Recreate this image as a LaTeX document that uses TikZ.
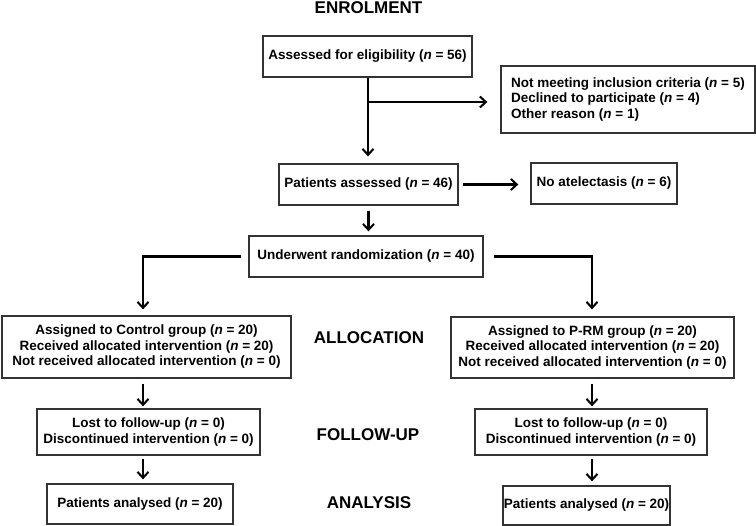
\documentclass[tikz,border=0pt]{standalone}
\usepackage{fontspec}
\setmainfont{Liberation Sans}
\usetikzlibrary{arrows.meta}
\newcommand\myn{\textit{n}}
\begin{document}
\begin{tikzpicture}[x=1pt,y=-1pt,
  box/.style={draw=black!80, line width=1.3pt, fill=white, align=center, inner sep=0pt,
    font=\fontsize{13.5}{15.5}\selectfont\bfseries},
  ttl/.style={font=\fontsize{17}{20}\selectfont\bfseries},
  arr/.style={line width=2.3pt, -{Straight Barb[length=6pt,width=11pt,line width=2pt]}},
  ln/.style={line width=2.3pt}]
\useasboundingbox (0,0) rectangle (756,526);
% titles
\node[ttl] (enr) at (368.5,8) {ENROLMENT};
\node[ttl] (alloc) at (369,338) {ALLOCATION};
\node[ttl] (fu) at (368,435) {FOLLOW-UP};
\node[ttl] (ana) at (369,503) {ANALYSIS};
% boxes
\node[box, minimum width=209pt, minimum height=41pt] (ass) at (367.5,56.5) {Assessed for eligibility (\myn{} = 56)};
\node[box, minimum width=254pt, minimum height=67pt, align=left] (exc) at (628,99.5)
  {Not meeting inclusion criteria (\myn{} = 5)\\Declined to participate (\myn{} = 4)\\Other reason (\myn{} = 1)};
\node[box, minimum width=179pt, minimum height=41pt] (pat) at (368.5,184.5) {Patients assessed (\myn{} = 46)};
\node[box, minimum width=146pt, minimum height=41pt] (noa) at (604,183.5) {No atelectasis (\myn{} = 6)};
\node[box, minimum width=234pt, minimum height=41pt] (ran) at (366,256.5) {Underwent randomization (\myn{} = 40)};
\node[box, minimum width=289pt, minimum height=62pt] (ctl) at (146.5,347)
  {Assigned to Control group (\myn{} = 20)\\Received allocated intervention (\myn{} = 20)\\Not received allocated intervention (\myn{} = 0)};
\node[box, minimum width=283pt, minimum height=61pt] (prm) at (592.5,347.5)
  {Assigned to P-RM group (\myn{} = 20)\\Received allocated intervention (\myn{} = 20)\\Not received allocated intervention (\myn{} = 0)};
\node[box, minimum width=223pt, minimum height=46pt] (fuL) at (148.5,432)
  {Lost to follow-up (\myn{} = 0)\\Discontinued intervention (\myn{} = 0)};
\node[box, minimum width=232pt, minimum height=46pt] (fuR) at (591,432)
  {Lost to follow-up (\myn{} = 0)\\Discontinued intervention (\myn{} = 0)};
\node[box, minimum width=186pt, minimum height=40pt] (anL) at (140,504) {Patients analysed (\myn{} = 20)};
\node[box, minimum width=167pt, minimum height=39pt] (anR) at (586.5,505.5) {Patients analysed (\myn{} = 20)};
% connectors
\coordinate (br1) at (368,102);
\coordinate (colL) at (143,0);
\coordinate (colR) at (592,0);
\draw[ln] (ass.south -| br1) -- (br1);
\draw[arr, shorten >=7pt] (br1) -- (pat.north -| br1);
\draw[arr, shorten >=13pt] (br1) -- (br1 -| exc.west);
\draw[arr, shorten <=4pt, shorten >=12pt] (pat.east) -- (noa.west |- pat.east);
\draw[arr, shorten <=5pt, shorten >=4pt] (pat.south) -- (pat.south |- ran.north);
\draw[arr, shorten <=7pt, shorten >=6pt] (ran.west) -| (ctl.north -| colL);
\draw[arr, shorten <=10pt, shorten >=7pt] (ran.east) -| (prm.north -| colR);
\draw[arr, shorten <=5pt, shorten >=2pt] (ctl.south -| colL) -- (fuL.north -| colL);
\draw[arr, shorten <=5pt, shorten >=2pt] (prm.south -| colR) -- (fuR.north -| colR);
\draw[arr, shorten <=3pt, shorten >=4pt] (fuL.south -| colL) -- (anL.north -| colL);
\draw[arr, shorten <=3pt, shorten >=4pt] (fuR.south -| colR) -- (anR.north -| colR);
\end{tikzpicture}
\end{document}
